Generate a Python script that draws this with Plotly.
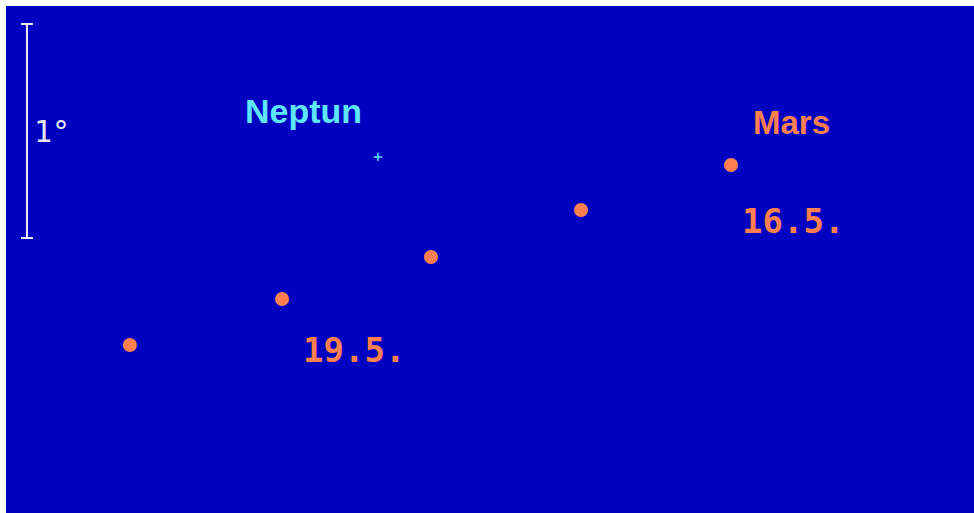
import plotly.graph_objects as go

# Data (degrees, relative sky offsets)
mars_dates = ["16.5.", "17.5.", "18.5.", "19.5.", "20.5."]
mars_x = [3.388, 2.687, 1.986, 1.290, 0.579]
mars_y = [1.626, 1.416, 1.196, 1.000, 0.785]
mars_labels = ["16.5.", "", "", "19.5.", ""]

neptune_x = [1.738]
neptune_y = [1.664]

scale_x = [0.098]
scale_y_mid = [1.785]
scale_len_deg = [1.0]
scale_label = "1°"

BG = "#0000C0"
MARS = "#FF7F50"
NEP = "#5EE6FA"
WHITE = "#E8E8F4"

fig = go.Figure()

# scale bar (1 degree) as error bar
fig.add_trace(go.Scatter(
    x=scale_x, y=scale_y_mid, mode="markers",
    marker=dict(size=1, color="rgba(0,0,0,0)"),
    error_y=dict(type="data", array=[v / 2 for v in scale_len_deg], color=WHITE,
                 thickness=2, width=6, visible=True),
    hoverinfo="skip", showlegend=False))

fig.add_trace(go.Scatter(
    x=mars_x, y=mars_y, mode="markers",
    marker=dict(size=14, color=MARS),
    text=mars_dates, hoverinfo="text", showlegend=False))

fig.add_trace(go.Scatter(
    x=neptune_x, y=neptune_y, mode="markers",
    marker=dict(size=6, color=NEP, symbol="cross-thin", line=dict(color=NEP, width=1.5)),
    hoverinfo="skip", showlegend=False))

annotations = []
annotations.append(dict(x=neptune_x[0], y=neptune_y[0], text="<b>Neptun</b>", showarrow=False,
                        xshift=-74, yshift=46, font=dict(family="Liberation Sans", size=34, color=NEP)))
annotations.append(dict(x=mars_x[0], y=mars_y[0], text="<b>Mars</b>", showarrow=False,
                        xshift=60, yshift=43, font=dict(family="Liberation Sans", size=33, color=MARS)))
shifts = {0: (62, -56), 3: (72, -51)}
for i, lab in enumerate(mars_labels):
    if lab:
        dx, dy = shifts[i]
        annotations.append(dict(x=mars_x[i], y=mars_y[i], text="<b>" + lab + "</b>", showarrow=False,
                                xshift=dx, yshift=dy,
                                font=dict(family="DejaVu Sans Mono", size=34, color=MARS)))
annotations.append(dict(x=scale_x[0], y=scale_y_mid[0], text=scale_label, showarrow=False,
                        xshift=25, yshift=0,
                        font=dict(family="DejaVu Sans Mono", size=30, color=WHITE)))

PX = 214.0  # pixels per degree
fig.update_layout(
    width=974, height=513,
    margin=dict(l=6, r=0, t=6, b=0),
    paper_bgcolor="white", plot_bgcolor=BG,
    xaxis=dict(range=[0, 968 / PX], visible=False, fixedrange=True),
    yaxis=dict(range=[0, 507 / PX], visible=False, fixedrange=True),
    annotations=annotations,
)

fig.write_html("out.html", config={"displayModeBar": False},
               post_script="document.body.style.margin='0';")
